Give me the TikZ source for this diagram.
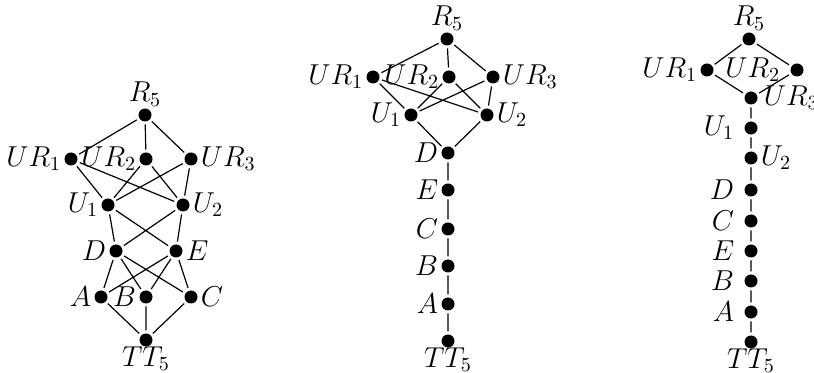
\documentclass[tikz,border=0pt]{standalone}
\begin{document}
\begin{tikzpicture}[x=0.5pt,y=-0.5pt,
  dot/.style={circle,fill=black,inner sep=0pt,minimum size=6.5pt,outer sep=1.5pt},
  every label/.style={inner sep=2pt,font=\Large},
  labA/.style={label={[label distance=-2.5pt]above:#1}},
  labB/.style={label={[label distance=-3.5pt]below:#1}},
  labL/.style={label={[label distance=-2pt]left:#1}},
  labR/.style={label={[label distance=-2pt]right:#1}},
  labF/.style={label={[label distance=1.5pt]left:#1}},
  ln/.style={line width=0.6pt}]
\useasboundingbox (0,0) rectangle (814,373);
% ---------- left lattice ----------
\node[dot,labA=$R_5$] (a-r5) at (145,115) {};
\node[dot,labL=$UR_1$] (a-ur1) at (71,159) {};
\node[dot,labL=$UR_2$] (a-ur2) at (146,159) {};
\node[dot,labR=$UR_3$] (a-ur3) at (191,159) {};
\node[dot,labL=$U_1$] (a-u1) at (108,205) {};
\node[dot,labR=$U_2$] (a-u2) at (183,205) {};
\node[dot,labL=$D$] (a-d) at (116,251) {};
\node[dot,labR=$E$] (a-e) at (176,251) {};
\node[dot,labL=$A$] (a-a) at (101,297) {};
\node[dot,labL=$B$] (a-b) at (146,297) {};
\node[dot,labR=$C$] (a-c) at (191,297) {};
\node[dot,labB=$TT_5$] (a-tt) at (146,340) {};
\draw[ln] (a-r5)--(a-ur1) (a-r5)--(a-ur2) (a-r5)--(a-ur3)
  (a-ur1)--(a-u1) (a-ur1)--(a-u2) (a-ur2)--(a-u1) (a-ur2)--(a-u2)
  (a-ur3)--(a-u1) (a-ur3)--(a-u2)
  (a-u1)--(a-d) (a-u1)--(a-e) (a-u2)--(a-d) (a-u2)--(a-e)
  (a-d)--(a-a) (a-d)--(a-b) (a-d)--(a-c) (a-e)--(a-a) (a-e)--(a-b) (a-e)--(a-c)
  (a-a)--(a-tt) (a-b)--(a-tt) (a-c)--(a-tt);
% ---------- middle lattice ----------
\node[dot,labA=$R_5$] (b-r5) at (447,39) {};
\node[dot,labL=$UR_1$] (b-ur1) at (373,77) {};
\node[dot,labL=$UR_2$] (b-ur2) at (449,77) {};
\node[dot,labR=$UR_3$] (b-ur3) at (493,77) {};
\node[dot,labL=$U_1$] (b-u1) at (411,115) {};
\node[dot,labR=$U_2$] (b-u2) at (487,115) {};
\node[dot,labL=$D$] (b-d) at (448,153) {};
\node[dot,labL=$E$] (b-e) at (448,190) {};
\node[dot,labL=$C$] (b-c) at (448,229) {};
\node[dot,labL=$B$] (b-b) at (448,266) {};
\node[dot,labL=$A$] (b-a) at (448,304) {};
\node[dot,labB=$TT_5$] (b-tt) at (448,341) {};
\draw[ln] (b-r5)--(b-ur1) (b-r5)--(b-ur2) (b-r5)--(b-ur3)
  (b-ur1)--(b-u1) (b-ur1)--(b-u2) (b-ur2)--(b-u1) (b-ur2)--(b-u2)
  (b-ur3)--(b-u1) (b-ur3)--(b-u2)
  (b-u1)--(b-d) (b-u2)--(b-d)
  (b-d)--(b-e) (b-e)--(b-c) (b-c)--(b-b) (b-b)--(b-a) (b-a)--(b-tt);
% ---------- right lattice ----------
\node[dot,labA=$R_5$] (c-r5) at (749,39) {};
\node[dot,labL=$UR_1$] (c-ur1) at (707,70) {};
\node[dot,label={[label distance=1.5pt]left:$UR_2$}] (c-ur2) at (797,70) {};
\node[dot,label={[label distance=-0.5pt]right:$UR_3$}] (c-ur3) at (751,98) {};
\node[dot,labF=$U_1$] (c-u1) at (751,128) {};
\node[dot,labR=$U_2$] (c-u2) at (751,158) {};
\node[dot,labF=$D$] (c-d) at (751,190) {};
\node[dot,labF=$C$] (c-c) at (751,221) {};
\node[dot,labF=$E$] (c-e) at (751,251) {};
\node[dot,labF=$B$] (c-b) at (751,281) {};
\node[dot,labF=$A$] (c-a) at (751,312) {};
\node[dot,labB=$TT_5$] (c-tt) at (751,342) {};
\draw[ln] (c-r5)--(c-ur1) (c-r5)--(c-ur2) (c-ur1)--(c-ur3) (c-ur2)--(c-ur3)
  (c-ur3)--(c-u1) (c-u1)--(c-u2) (c-u2)--(c-d) (c-d)--(c-c) (c-c)--(c-e)
  (c-e)--(c-b) (c-b)--(c-a) (c-a)--(c-tt);
\end{tikzpicture}
\end{document}
